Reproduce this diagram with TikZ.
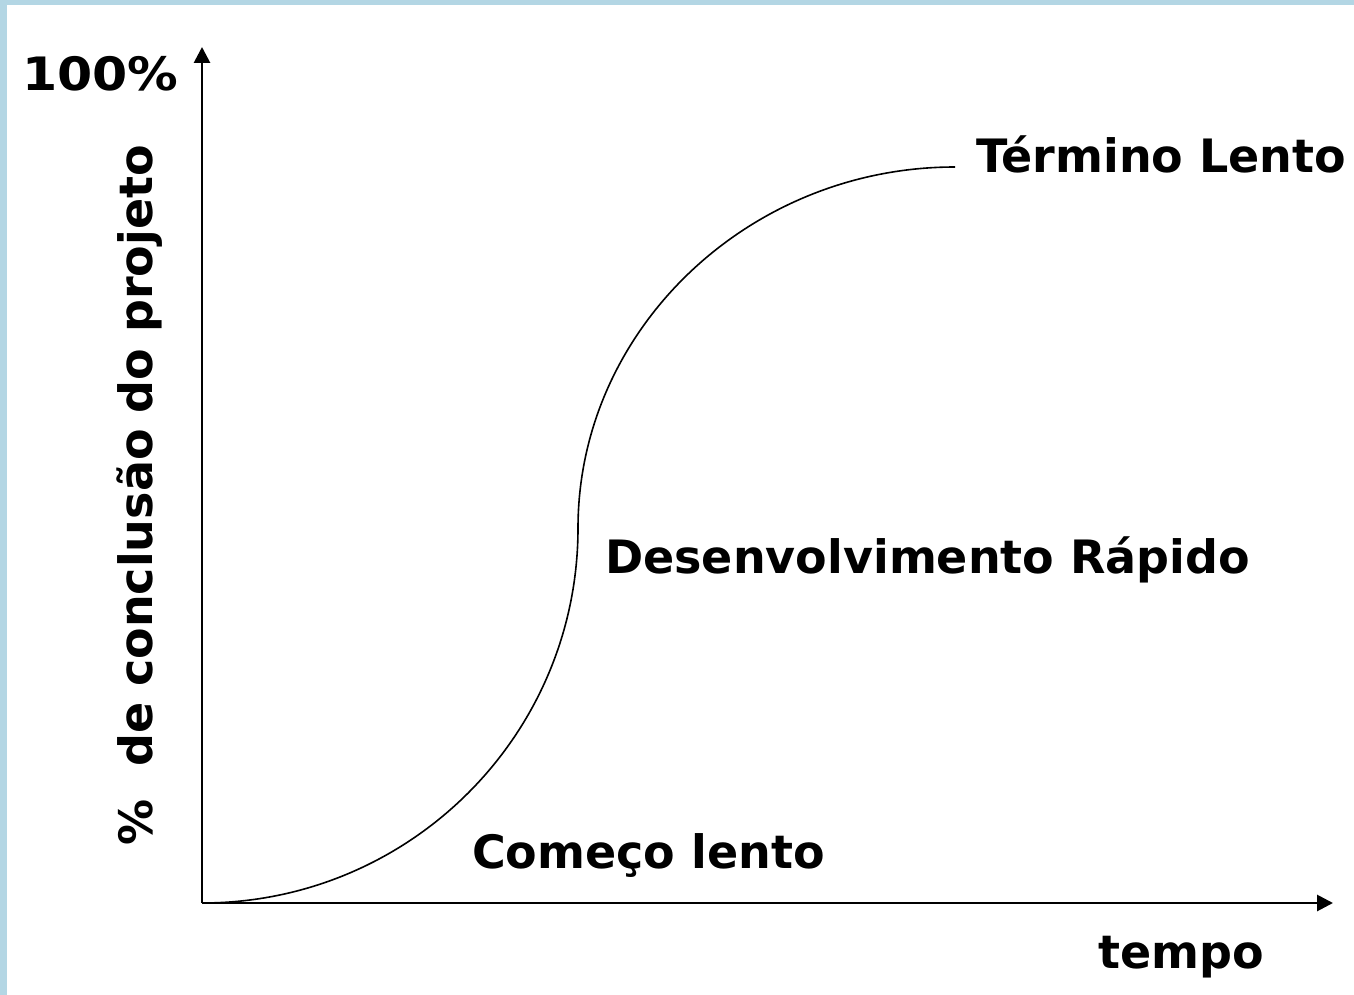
\documentclass[tikz,border=0pt]{standalone}
\usepackage{fontspec}
\setmainfont{DejaVu Sans}
\usetikzlibrary{arrows.meta}
\definecolor{framebl}{HTML}{B3D6E4}
\tikzset{
  lbl/.style={font=\bfseries\fontsize{46}{54}\selectfont, inner sep=0pt, text=black},
  axis/.style={line width=2.8pt, -{Triangle[length=16pt,width=16pt]}},
  scurve/.style={line width=1.6pt}
}
\begin{document}
\begin{tikzpicture}[x=1pt,y=-1pt]
\useasboundingbox (0,0) rectangle (1354,995);
\fill[white] (0,0) rectangle (1354,995);
\fill[framebl] (0,0) rectangle (1354,5);
\fill[framebl] (0,0) rectangle (7,995);
\coordinate (O) at (202,903);
\coordinate (Ytop) at (202,47);
\coordinate (Xend) at (1333,903);
\coordinate (M) at (578,528);
\coordinate (E) at (955,167);
\draw[axis] (O) -- (Ytop);
\draw[axis] (O) -- (Xend);
\draw[scurve] (O) .. controls (410,903) and (578,735) .. (M)
  .. controls (578,330) and (748,167) .. (E);
\node[lbl, anchor=base west, xscale=1.1] (hundred) at (22,91) {100\%};
\node[lbl, anchor=base, rotate=90] (ylab) at (152,495) {\%~~de conclusão do projeto};
\node[lbl, anchor=base west] (term) at (976,173) {Término Lento};
\node[lbl, anchor=base west] (desenv) at (605,573) {Desenvolvimento Rápido};
\node[lbl, anchor=base west] (comeco) at (472,868) {Começo lento};
\node[lbl, anchor=base west] (tempo) at (1098,968) {tempo};
\end{tikzpicture}
\end{document}
